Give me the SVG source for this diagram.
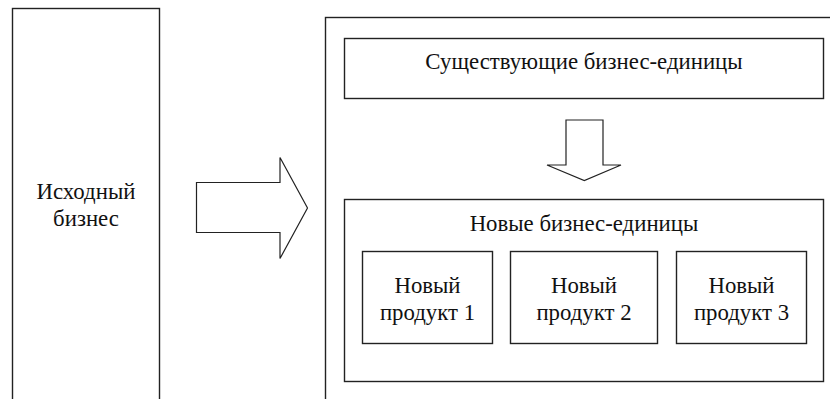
<svg xmlns="http://www.w3.org/2000/svg" width="830" height="399" viewBox="0 0 830 399">
<style>
.box{fill:#fff;stroke:#222;stroke-width:1.4}
.arr{fill:#fff;stroke:#222;stroke-width:1.2;stroke-linejoin:miter}
.t{font-family:"Liberation Serif","Times New Roman",serif;font-size:22.8px;fill:#111;text-anchor:middle}
</style>
<rect width="830" height="399" fill="#fff"/>
<g id="source">
<rect class="box" x="12.5" y="8.5" width="147" height="400"/>
<text class="t" x="86" y="199">Исходный</text>
<text class="t" x="86" y="226">бизнес</text>
</g>
<g id="target">
<rect class="box" x="325.5" y="17.5" width="520" height="400"/>
</g>
<g id="existing">
<rect class="box" x="344.5" y="38.5" width="479" height="60"/>
<text class="t" x="584" y="69">Существующие бизнес-единицы</text>
</g>
<g id="new-units">
<rect class="box" x="344.5" y="199.5" width="479" height="182"/>
<text class="t" x="584" y="231">Новые бизнес-единицы</text>
</g>
<g id="product1">
<rect class="box" x="362.5" y="251.5" width="130" height="92"/>
<text class="t" x="427.5" y="293">Новый</text>
<text class="t" x="427.5" y="320">продукт 1</text>
</g>
<g id="product2">
<rect class="box" x="510.5" y="251.5" width="147" height="92"/>
<text class="t" x="584" y="293">Новый</text>
<text class="t" x="584" y="320">продукт 2</text>
</g>
<g id="product3">
<rect class="box" x="676.5" y="251.5" width="130" height="92"/>
<text class="t" x="741.5" y="293">Новый</text>
<text class="t" x="741.5" y="320">продукт 3</text>
</g>
<g id="connectors">
<polygon class="arr" points="196.5,182.5 280,182.5 280,157.5 307.5,208 280,258.5 280,232.5 196.5,232.5"/>
<polygon class="arr" points="566,120 603,120 603,165 621,165 584.3,180.5 547,165 566,165"/>
</g>
</svg>
